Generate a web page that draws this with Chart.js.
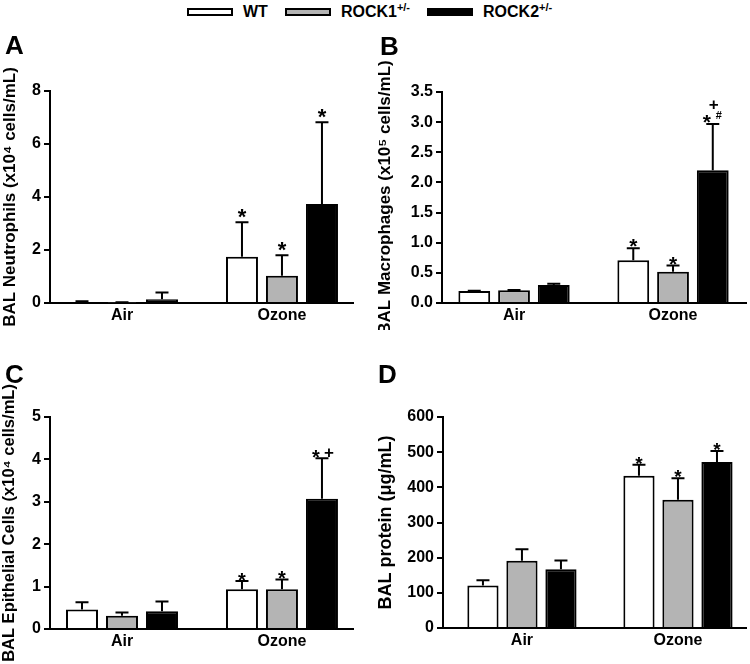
<!DOCTYPE html>
<html><head><meta charset="utf-8">
<script src="https://cdn.jsdelivr.net/npm/chart.js@4.4.0/dist/chart.umd.min.js"></script>
<style>
html,body{margin:0;padding:0;background:#fff;}
body{width:750px;height:664px;position:relative;overflow:hidden;font-family:'Liberation Sans',Arial,sans-serif;color:#000;}
.pane{position:absolute;}
.letter{position:absolute;font-weight:bold;font-size:26px;line-height:1;}
#legend{position:absolute;left:187px;top:0;height:24px;display:flex;align-items:center;font-weight:bold;font-size:16px;}
.lbox{width:46px;height:8px;box-sizing:border-box;border:2px solid #000;margin-right:10px;}
.ltxt{margin-right:17px;white-space:nowrap;line-height:16px;}
.ltxt sup{font-size:11px;line-height:0;vertical-align:6px;}
</style></head><body>
<div id="legend"></div>
<script>
// ---- data ----
const groups = ['Air', 'Ozone'];
const seriesNames = ['WT', 'ROCK1', 'ROCK2'];
const seriesSup = ['', '+/-', '+/-'];
const seriesColors = ['#ffffff', '#b4b4b4', '#000000'];

// A: BAL Neutrophils (x10^4 cells/mL)
const neutTicks = [0, 2, 4, 6, 8];
const neutWT = [0.04, 1.75],  neutWTErr = [0.03, 1.30];
const neutR1 = [0.02, 1.03],  neutR1Err = [0.01, 0.77];
const neutR2 = [0.14, 3.74],  neutR2Err = [0.26, 3.08];
const neutMarksWT = ['', '*'], neutMarksR1 = ['', '*'], neutMarksR2 = ['', '*'];

// B: BAL Macrophages (x10^5 cells/mL)
const macTicks = [0, 0.5, 1.0, 1.5, 2.0, 2.5, 3.0, 3.5];
const macWT = [0.20, 0.71],  macWTErr = [0.005, 0.20];
const macR1 = [0.21, 0.52],  macR1Err = [0.005, 0.10];
const macR2 = [0.30, 2.20],  macR2Err = [0.02, 0.77];
const macMarksWT = ['', '*'], macMarksR1 = ['', '*'], macMarksR2 = ['', '*#+'];

// C: BAL Epithelial Cells (x10^4 cells/mL)
const epiTicks = [0, 1, 2, 3, 4, 5];
const epiWT = [0.46, 0.94],  epiWTErr = [0.17, 0.19];
const epiR1 = [0.31, 0.94],  epiR1Err = [0.08, 0.23];
const epiR2 = [0.42, 3.07],  epiR2Err = [0.23, 0.96];
const epiMarksWT = ['', '*'], epiMarksR1 = ['', '*'], epiMarksR2 = ['', '*+'];

// D: BAL protein (ug/mL)
const protTicks = [0, 100, 200, 300, 400, 500, 600];
const protWT = [121, 433],  protWTErr = [15, 31];
const protR1 = [191, 365],  protR1Err = [33, 61];
const protR2 = [167, 472],  protR2Err = [25, 31];
const protMarksWT = ['', '*'], protMarksR1 = ['', '*'], protMarksR2 = ['', '*'];

const FONT = "'Liberation Sans', Arial, sans-serif";
Chart.defaults.font.family = FONT;
Chart.defaults.color = '#000';

// ---- legend (HTML, from series arrays) ----
const leg = document.getElementById('legend');
seriesNames.forEach((n, i) => {
  const b = document.createElement('div'); b.className = 'lbox'; b.style.background = seriesColors[i];
  const t = document.createElement('div'); t.className = 'ltxt';
  t.innerHTML = n + (seriesSup[i] ? '<sup>' + seriesSup[i] + '</sup>' : '');
  leg.appendChild(b); leg.appendChild(t);
});

// ---- error bars + significance marks ----
const errPlugin = {
  id: 'errmarks',
  afterDatasetsDraw(chart, args, opts) {
    const ctx = chart.ctx, ys = chart.scales.y;
    chart.data.datasets.forEach((ds, di) => {
      const meta = chart.getDatasetMeta(di);
      meta.data.forEach((bar, i) => {
        const v = ds.data[i].y, e = ds.errs[i];
        const x = bar.x, yTop = ys.getPixelForValue(v), yCap = ys.getPixelForValue(v + e);
        ctx.save();
        ctx.strokeStyle = '#000'; ctx.lineWidth = 2; ctx.lineCap = 'butt';
        ctx.beginPath();
        ctx.moveTo(x, yTop); ctx.lineTo(x, yCap);
        ctx.moveTo(x - 6.5, yCap); ctx.lineTo(x + 6.5, yCap);
        ctx.stroke();
        const m = ds.marks[i];
        if (m) {
          ctx.fillStyle = '#000'; ctx.textAlign = 'center'; ctx.textBaseline = 'alphabetic';
          const hasHash = m.includes('#'), hasPlus = m.includes('+');
          const ss = opts.starSize;
          const sc = yCap - opts.starOff;
          const sx = (hasHash || hasPlus) ? x - 6 : x;
          ctx.font = 'bold ' + ss + 'px ' + FONT;
          ctx.fillText('*', sx, sc + 0.58 * ss);
          if (hasHash) {
            ctx.font = 'bold 11px ' + FONT;
            ctx.fillText('#', x + 6, yCap - 9 + 0.36 * 11);
            ctx.font = 'bold 17px ' + FONT;
            ctx.fillText('+', x + 1, yCap - 20 + 0.35 * 17);
          } else if (hasPlus) {
            ctx.font = 'bold 17px ' + FONT;
            ctx.fillText('+', x + 7, sc + 0.35 * 17);
          }
        }
        ctx.restore();
      });
    });
  }
};

function makePanel(p) {
  const [cl, ct, cw, ch] = p.box;
  const [al, at, ar, ab] = p.area;
  const XH = 27;
  const div = document.createElement('div');
  div.className = 'pane';
  Object.assign(div.style, {left: cl + 'px', top: ct + 'px', width: cw + 'px', height: ch + 'px'});
  const cv = document.createElement('canvas');
  cv.width = cw; cv.height = ch; cv.style.width = cw + 'px'; cv.style.height = ch + 'px';
  div.appendChild(cv); document.body.appendChild(div);

  const lt = document.createElement('div');
  lt.className = 'letter'; lt.textContent = p.letter;
  lt.style.left = p.letterPos[0] + 'px'; lt.style.top = p.letterPos[1] + 'px';
  document.body.appendChild(lt);

  new Chart(cv, {
    type: 'bar',
    data: {
      datasets: seriesNames.map((n, si) => ({
        label: n,
        data: p.values[si].map((v, gi) => ({x: gi + 1, y: v})),
        errs: p.errs[si], marks: p.marks[si],
        backgroundColor: seriesColors[si], borderColor: '#000', borderWidth: 2
      }))
    },
    options: {
      responsive: false, animation: false, devicePixelRatio: 1,
      categoryPercentage: 0.75, barPercentage: 0.8,
      layout: {padding: {left: 0, top: at - ct, right: cl + cw - ar, bottom: ch - (ab - ct) - XH}},
      plugins: {legend: {display: false}, tooltip: {enabled: false},
                errmarks: {starOff: p.starOff, starSize: p.starSize}},
      scales: {
        x: {
          type: 'linear', offset: false, min: p.xRange[0], max: p.xRange[1],
          afterBuildTicks: s => { s.ticks = groups.map((g, i) => ({value: i + 1})); },
          afterFit: s => { s.height = XH; },
          grid: {display: false, drawTicks: false},
          border: {display: true, color: '#000', width: 2},
          ticks: {callback: v => groups[Math.round(v) - 1], font: {size: 16, weight: 'bold'},
                  color: '#000', padding: 3, maxRotation: 0, autoSkip: false}
        },
        y: {
          min: p.ticks[0], max: p.ticks[p.ticks.length - 1],
          afterBuildTicks: s => { s.ticks = p.ticks.map(v => ({value: v})); },
          afterFit: s => { s.width = al - cl; },
          grid: {drawOnChartArea: false, drawTicks: true, tickLength: 6, color: '#000', lineWidth: 2},
          border: {color: '#000', width: 2},
          ticks: {callback: v => p.fmt(v), font: {size: 16, weight: 'bold'}, color: '#000', padding: 3},
          title: {display: true, text: p.title, font: {size: p.titleSize, weight: 'bold'}, color: '#000', padding: 0}
        }
      }
    },
    plugins: [errPlugin]
  });
}

makePanel({letter: 'A', letterPos: [5, 32], title: 'BAL Neutrophils (x10\u2074 cells/mL)', titleSize: 17,
  ticks: neutTicks, fmt: v => String(v),
  values: [neutWT, neutR1, neutR2], errs: [neutWTErr, neutR1Err, neutR2Err],
  marks: [neutMarksWT, neutMarksR1, neutMarksR2],
  box: [0, 35, 375, 295], area: [50, 91, 353, 303], xRange: [0.55, 2.444], starOff: 11, starSize: 22});

makePanel({letter: 'B', letterPos: [380, 33], title: 'BAL Macrophages (x10\u2075 cells/mL)', titleSize: 17,
  ticks: macTicks, fmt: v => v.toFixed(1),
  values: [macWT, macR1, macR2], errs: [macWTErr, macR1Err, macR2Err],
  marks: [macMarksWT, macMarksR1, macMarksR2],
  box: [375, 35, 375, 295], area: [442, 92, 746, 303], xRange: [0.547, 2.459], starOff: 7, starSize: 21});

makePanel({letter: 'C', letterPos: [5, 361], title: 'BAL Epithelial Cells (x10\u2074 cells/mL)', titleSize: 16.5,
  ticks: epiTicks, fmt: v => String(v),
  values: [epiWT, epiR1, epiR2], errs: [epiWTErr, epiR1Err, epiR2Err],
  marks: [epiMarksWT, epiMarksR1, epiMarksR2],
  box: [0, 355, 375, 309], area: [50, 417, 353, 629], xRange: [0.55, 2.444], starOff: 6, starSize: 20});

makePanel({letter: 'D', letterPos: [378, 361], title: 'BAL protein (\u03bcg/mL)', titleSize: 18,
  ticks: protTicks, fmt: v => String(v),
  values: [protWT, protR1, protR2], errs: [protWTErr, protR1Err, protR2Err],
  marks: [protMarksWT, protMarksR1, protMarksR2],
  box: [375, 355, 375, 309], area: [443, 417, 746, 628], xRange: [0.494, 2.436], starOff: 6, starSize: 19});
</script>
</body></html>
